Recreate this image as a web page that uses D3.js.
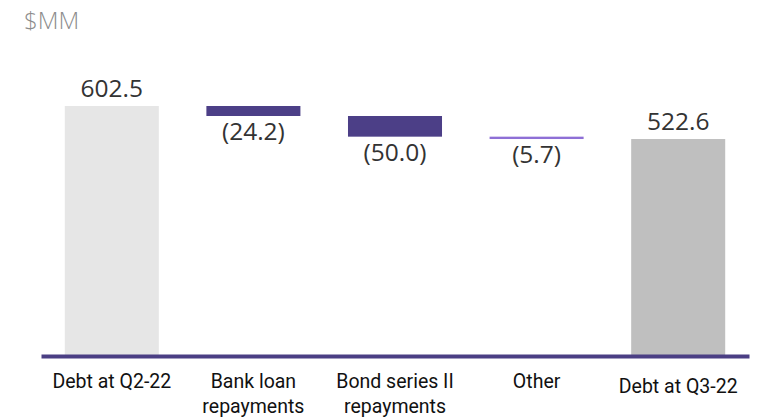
<!DOCTYPE html>
<html>
<head>
<meta charset="utf-8">
<script src="https://cdn.jsdelivr.net/npm/d3@7"></script>
<style>
  body { margin: 0; background: #fff; }
  svg { display: block; }
</style>
</head>
<body>
<div id="chart"></div>
<script>
// 値は画像から読み取り
const categories = [
    ['Debt at Q2-22'],
    ['Bank loan', 'repayments'],
    ['Bond series II', 'repayments'],
    ['Other'],
    ['Debt at Q3-22']
];
const values = [602.5, -24.2, -50.0, -5.7, 522.6];
const barTypes = ['total', 'delta', 'delta', 'delta', 'total'];
const valueLabels = ['602.5', '(24.2)', '(50.0)', '(5.7)', '522.6'];
const barColors = ['#e6e6e6', '#4c3f87', '#4c3f87', '#8e6fd6', '#bfbfbf'];
const unitLabel = '$MM';

const width = 758;
const height = 417;
const margin = { top: 106, right: 9, bottom: 62, left: 41 };

const svg = d3.select('#chart')
    .append('svg')
    .attr('width', width)
    .attr('height', height);

// ウォーターフォールの開始・終了位置を計算
let running = 0;
const bars = values.map((v, i) => {
    let start, end;
    if (barTypes[i] === 'total') {
        start = 0;
        end = v;
        running = v;
    } else {
        start = running;
        end = running + v;
        running = end;
    }
    return { i, start, end, value: v, type: barTypes[i] };
});

const x = d3.scaleBand()
    .domain(d3.range(categories.length))
    .range([margin.left, width - margin.right])
    .paddingInner(0.336)
    .paddingOuter(0.168);

const y = d3.scaleLinear()
    .domain([0, d3.max(values)])
    .range([height - margin.bottom, margin.top]);

// 単位
svg.append('text')
    .attr('x', 24)
    .attr('y', 29)
    .attr('fill', '#8c8c8c')
    .style('font-family', '"Open Sans", sans-serif')
    .style('font-size', '24px')
    .style('font-weight', 300)
    .text(unitLabel);

// バー
svg.append('g')
    .selectAll('rect')
    .data(bars)
    .join('rect')
    .attr('x', d => x(d.i))
    .attr('width', x.bandwidth())
    .attr('y', d => y(Math.max(d.start, d.end)))
    .attr('height', d => Math.abs(y(d.start) - y(d.end)))
    .attr('fill', (d, i) => barColors[i]);

// 値ラベル
svg.append('g')
    .selectAll('text')
    .data(bars)
    .join('text')
    .attr('x', d => x(d.i) + x.bandwidth() / 2)
    .attr('y', d => d.type === 'total'
        ? y(Math.max(d.start, d.end)) - 9
        : y(Math.min(d.start, d.end)) + 24)
    .attr('text-anchor', 'middle')
    .attr('fill', '#333')
    .style('font-family', '"Open Sans", sans-serif')
    .style('font-size', '24.5px')
    .text((d, i) => valueLabels[i]);

// 軸
const xAxis = d3.axisBottom(x).tickSize(0).tickFormat('');
const axisG = svg.append('g')
    .attr('transform', `translate(0,${y(0) + 1})`)
    .call(xAxis);
axisG.select('.domain')
    .attr('stroke', '#4b3f84')
    .attr('stroke-width', 4);

// カテゴリラベル
const labels = svg.append('g')
    .selectAll('text')
    .data(categories)
    .join('text')
    .attr('x', (d, i) => x(i) + x.bandwidth() / 2)
    .attr('y', (d, i) => i === categories.length - 1 ? 393 : 388)
    .attr('text-anchor', 'middle')
    .attr('fill', '#111')
    .style('font-family', 'Roboto, sans-serif')
    .style('font-size', '19.5px');

labels.selectAll('tspan')
    .data(d => d)
    .join('tspan')
    .attr('x', function () { return d3.select(this.parentNode).attr('x'); })
    .attr('dy', (d, j) => j === 0 ? 0 : 25)
    .text(d => d);
</script>
</body>
</html>
